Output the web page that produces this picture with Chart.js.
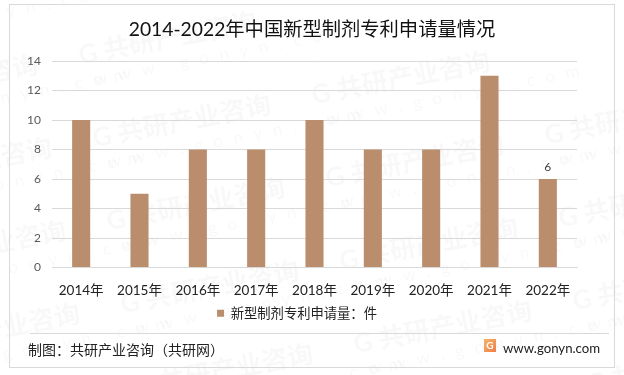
<!DOCTYPE html>
<html>
<head>
<meta charset="utf-8">
<script src="https://cdn.jsdelivr.net/npm/chart.js@4"></script>
<style>
  html, body { margin: 0; padding: 0; background: #fff; }
  #wrap { position: relative; width: 624px; height: 375px; overflow: hidden; font-family: Lato, "Noto Sans CJK SC", sans-serif; }
  #frame { position: absolute; left: 9px; top: 4px; width: 604px; height: 362px; border: 1px solid #d9d9d9; }
  canvas { position: absolute; left: 0; top: 0; }
  #title { position: absolute; left: 0; width: 624px; text-align: center; top: 16px; font-size: 19.3px; line-height: 26px; color: #111; }
  #sep { position: absolute; left: 30px; top: 333px; width: 579px; height: 1px; background: #d9d9d9; }
  #source { position: absolute; left: 28px; top: 340px; font-size: 14px; line-height: 20px; color: #222; }
  #site { position: absolute; left: 503px; top: 338px; font-size: 13.2px; line-height: 20px; color: #222; }
  #logo { position: absolute; left: 484px; top: 339px; width: 12px; height: 13px; background: linear-gradient(135deg, #f7b267, #ef7f4a); color: #fff; font: bold 10px/13px Lato, sans-serif; text-align: center; }
</style>
</head>
<body>
<div id="wrap">
  <canvas id="patent-chart" width="624" height="375"></canvas>
  <div id="frame"></div>
  <div id="title">2014-2022年中国新型制剂专利申请量情况</div>
  <div id="sep"></div>
  <div id="source">制图：共研产业咨询（共研网）</div>
  <div id="logo">G</div>
  <div id="site">www.gonyn.com</div>
</div>
<script>
const years = ['2014年', '2015年', '2016年', '2017年', '2018年', '2019年', '2020年', '2021年', '2022年'];
const patentCounts = [10, 5, 8, 8, 10, 8, 8, 13, 6];
const seriesName = '新型制剂专利申请量：件';
const labelledIndex = [8]; // only 2022 has a value label

const fontFamily = 'Lato, "Noto Sans CJK SC", sans-serif';

// faint site watermark behind the chart
const watermark = {
  id: 'watermark',
  beforeDraw(chart) {
    const ctx = chart.ctx;
    for (let col = -1; col < 4; col++) {
      for (let row = -2; row < 5; row++) {
        const x = 107 + col * 233 + row * 14;
        const y = 222 + col * 40 + row * 83;
        ctx.save();
        ctx.translate(x, y);
        ctx.rotate(-0.19);
        ctx.fillStyle = 'rgba(0, 0, 0, 0.028)';
        ctx.font = 'bold 26px ' + fontFamily;
        ctx.fillText('G 共研产业咨询', 0, 0);
        ctx.font = '17px ' + fontFamily;
        ctx.letterSpacing = '11px';
        ctx.fillText('www.gonyn.com', 10, 26);
        ctx.restore();
      }
    }
  }
};

const valueLabels = {
  id: 'valueLabels',
  afterDatasetsDraw(chart) {
    const ctx = chart.ctx;
    const bars = chart.getDatasetMeta(0).data;
    ctx.save();
    ctx.font = '12px ' + fontFamily;
    ctx.fillStyle = '#404040';
    ctx.textAlign = 'center';
    ctx.textBaseline = 'bottom';
    labelledIndex.forEach((i) => {
      ctx.fillText(patentCounts[i], bars[i].x, bars[i].y - 6);
    });
    ctx.restore();
  }
};

new Chart(document.getElementById('patent-chart'), {
  type: 'bar',
  data: {
    labels: years,
    datasets: [
      {
        label: seriesName,
        data: patentCounts,
        backgroundColor: '#ba8e6c',
        categoryPercentage: 1,
        barPercentage: 0.31
      }
    ]
  },
  plugins: [watermark, valueLabels],
  options: {
    responsive: false,
    animation: false,
    layout: {
      padding: { left: 17, right: 47, top: 61, bottom: 45 }
    },
    plugins: {
      title: { display: false },
      tooltip: { enabled: false },
      legend: {
        position: 'bottom',
        labels: {
          boxWidth: 7,
          boxHeight: 7,
          padding: 6,
          color: '#222',
          font: { size: 13.3, family: fontFamily }
        }
      }
    },
    scales: {
      x: {
        afterFit(scale) { scale.height -= 5; },
        grid: { display: false },
        border: { color: '#d9d9d9' },
        ticks: {
          color: '#222',
          maxRotation: 0,
          padding: 7,
          font: { size: 13.5, family: fontFamily }
        }
      },
      y: {
        min: 0,
        max: 14,
        afterFit(scale) { scale.width = 35; },
        grid: { color: '#d9d9d9', drawTicks: false },
        border: { display: false },
        ticks: {
          stepSize: 2,
          color: '#595959',
          padding: 11,
          font: { size: 12, family: fontFamily }
        }
      }
    }
  }
});
</script>
</body>
</html>
